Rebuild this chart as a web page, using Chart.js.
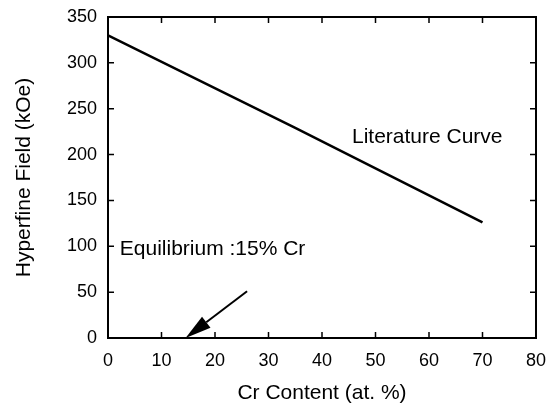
<!DOCTYPE html>
<html>
<head>
<meta charset="utf-8">
<script src="https://cdn.jsdelivr.net/npm/chart.js@4"></script>
<style>
  html, body { margin: 0; padding: 0; background: #fff; }
  #wrap { width: 553px; height: 407px; }
</style>
</head>
<body>
<div id="wrap"><canvas id="hf-chart"></canvas></div>
<script>
// Data
var crContent = [0, 35, 70];
var hyperfineField = [330, 229, 126];
var xTicks = [0, 10, 20, 30, 40, 50, 60, 70, 80];
var yTicks = [0, 50, 100, 150, 200, 250, 300, 350];

// Annotations (data coordinates)
var curveLabel = { text: "Literature Curve", x: 45.6, y: 219 };
var eqLabel = { text: "Equilibrium :15% Cr", x: 2.2, y: 97 };
var arrowFrom = [26, 51];
var arrowTo = [14.5, 0];

var FONT = "'Liberation Sans', Arial, Helvetica, sans-serif";

document.addEventListener("DOMContentLoaded", function () {
  var ctx = document.getElementById("hf-chart").getContext("2d");

  // frame, inward ticks and annotations
  var decorations = {
    id: "decorations",
    afterDatasetsDraw: function (chart) {
      var c = chart.ctx;
      var area = chart.chartArea;
      var xs = chart.scales.x;
      var ys = chart.scales.y;
      c.save();
      c.strokeStyle = "#000";
      c.lineWidth = 2;
      c.strokeRect(area.left, area.top, area.right - area.left, area.bottom - area.top);

      // inward ticks
      c.lineWidth = 1.5;
      c.beginPath();
      xTicks.slice(1, -1).forEach(function (v) {
        var px = xs.getPixelForValue(v);
        c.moveTo(px, area.bottom);
        c.lineTo(px, area.bottom - 6);
        c.moveTo(px, area.top);
        c.lineTo(px, area.top + 6);
      });
      yTicks.slice(1, -1).forEach(function (v) {
        var py = ys.getPixelForValue(v);
        c.moveTo(area.left, py);
        c.lineTo(area.left + 6, py);
        c.moveTo(area.right, py);
        c.lineTo(area.right - 6, py);
      });
      c.stroke();

      // labels
      c.fillStyle = "#000";
      c.font = "21px " + FONT;
      c.textAlign = "left";
      c.textBaseline = "middle";
      c.fillText(curveLabel.text, xs.getPixelForValue(curveLabel.x), ys.getPixelForValue(curveLabel.y));
      c.fillText(eqLabel.text, xs.getPixelForValue(eqLabel.x), ys.getPixelForValue(eqLabel.y));

      // arrow
      var x1 = xs.getPixelForValue(arrowFrom[0]);
      var y1 = ys.getPixelForValue(arrowFrom[1]);
      var x2 = xs.getPixelForValue(arrowTo[0]);
      var y2 = ys.getPixelForValue(arrowTo[1]);
      var ang = Math.atan2(y2 - y1, x2 - x1);
      var headLen = 26;
      var headW = 7;
      var bx = x2 - headLen * Math.cos(ang);
      var by = y2 - headLen * Math.sin(ang);
      c.lineWidth = 2;
      c.beginPath();
      c.moveTo(x1, y1);
      c.lineTo(bx, by);
      c.stroke();
      c.beginPath();
      c.moveTo(x2, y2);
      c.lineTo(bx + headW * Math.sin(ang), by - headW * Math.cos(ang));
      c.lineTo(bx - headW * Math.sin(ang), by + headW * Math.cos(ang));
      c.closePath();
      c.fill();
      c.restore();
    },
  };

  new Chart(ctx, {
    type: "scatter",
    data: {
      datasets: [
        {
          label: "Literature Curve",
          data: crContent.map(function (x, i) {
            return { x: x, y: hyperfineField[i] };
          }),
          showLine: true,
          borderColor: "#000",
          borderWidth: 2.5,
          pointRadius: 0,
          fill: false,
        },
      ],
    },
    options: {
      responsive: true,
      maintainAspectRatio: false,
      animation: false,
      layout: { padding: { top: 17, right: 17, left: 0, bottom: 0 } },
      plugins: {
        legend: { display: false },
        tooltip: { enabled: false },
      },
      scales: {
        x: {
          type: "linear",
          min: 0,
          max: 80,
          afterBuildTicks: function (scale) {
            scale.ticks = xTicks.map(function (v) { return { value: v }; });
          },
          afterFit: function (scale) { scale.height = 69; },
          grid: { display: false },
          border: { display: false },
          ticks: {
            color: "#000",
            font: { family: FONT, size: 18 },
            padding: 4,
            maxRotation: 0,
          },
          title: {
            display: true,
            text: "Cr Content (at. %)",
            color: "#000",
            font: { family: FONT, size: 21 },
            padding: { top: 0, bottom: 1 },
          },
        },
        y: {
          type: "linear",
          min: 0,
          max: 350,
          afterBuildTicks: function (scale) {
            scale.ticks = yTicks.map(function (v) { return { value: v }; });
          },
          afterFit: function (scale) { scale.width = 108; },
          grid: { display: false },
          border: { display: false },
          ticks: {
            color: "#000",
            font: { family: FONT, size: 18 },
            padding: 3,
          },
          title: {
            display: true,
            text: "Hyperfine Field (kOe)",
            color: "#000",
            font: { family: FONT, size: 21 },
            padding: { top: 12, bottom: 0 },
          },
        },
      },
    },
    plugins: [decorations],
  });
});
</script>
</body>
</html>
